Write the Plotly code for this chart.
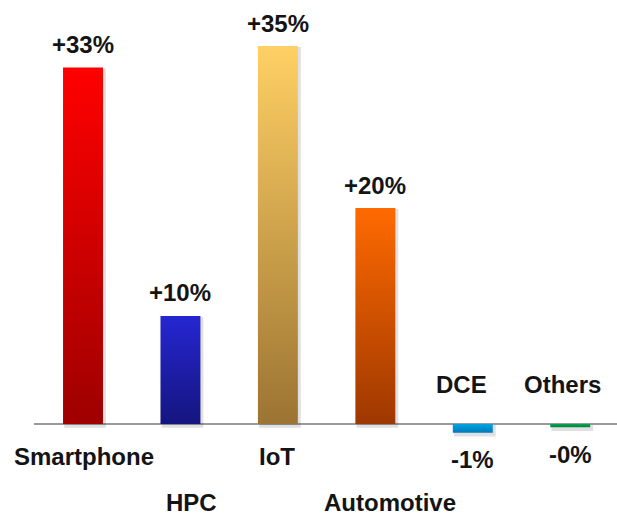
import plotly.graph_objects as go

# Growth by application segment
categories = ["Smartphone", "HPC", "IoT", "Automotive", "DCE", "Others"]
growth_pct = [33, 10, 35, 20, -0.8, -0.3]

# Vertical gradient per bar: (bottom colour, top colour)
bar_gradients = [
    ("#9e0000", "#ff0000"),
    ("#15157f", "#2626d2"),
    ("#9c7433", "#ffd064"),
    ("#9e3800", "#ff6a00"),
    ("#0079b8", "#00a4e4"),
    ("#00843c", "#00a84e"),
]

# Category label placement: (row offset in px from the zero line, horizontal nudge in px)
label_place = [(-33, 1), (-79, 11), (-33, -1), (-79, 15), (39, -11), (39, -8)]

FONT = dict(family="Arial, Liberation Sans, sans-serif", size=24, color="#141414", weight="bold")
BAR_W = 0.41

fig = go.Figure()

for i, (v, (c_lo, c_hi)) in enumerate(zip(growth_pct, bar_gradients)):
    x0, x1 = i - BAR_W / 2, i + BAR_W / 2
    # soft drop shadow behind the bar
    fig.add_trace(go.Scatter(
        x=[x0 + 0.012, x1 + 0.03, x1 + 0.03, x0 + 0.012, x0 + 0.012],
        y=[min(v, 0) - 0.35, min(v, 0) - 0.35, max(v, 0) - 0.1, max(v, 0) - 0.1, min(v, 0) - 0.35],
        mode="lines", line=dict(width=0), fill="toself",
        fillcolor="rgba(0,0,0,0.12)", hoverinfo="skip", showlegend=False,
    ))
    fig.add_trace(go.Scatter(
        x=[x0, x1, x1, x0, x0],
        y=[0, 0, v, v, 0],
        mode="lines", line=dict(width=0), fill="toself",
        fillgradient=dict(type="vertical", colorscale=[[0, c_lo], [1, c_hi]]),
        hoverinfo="skip", showlegend=False,
    ))
    # value label
    fig.add_annotation(
        x=i, y=v, xref="x", yref="y",
        text=f"{v:+.0f}%", showarrow=False, font=FONT,
        xanchor="center", yanchor="middle",
        yshift=23 if v >= 0 else -27,
    )

for i, (name, (dy, dx)) in enumerate(zip(categories, label_place)):
    fig.add_annotation(
        x=i, y=0, xref="x", yref="y",
        text=name, showarrow=False, font=FONT,
        xanchor="center", yanchor="middle",
        yshift=dy, xshift=dx,
    )

fig.update_layout(
    width=617, height=516,
    margin=dict(l=34, r=0, t=0, b=0),
    paper_bgcolor="white", plot_bgcolor="white",
    showlegend=False,
    xaxis=dict(range=[-0.503, 5.48], visible=False, fixedrange=True),
    yaxis=dict(range=[-8.52, 39.26], showgrid=False, showticklabels=False,
               zeroline=True, zerolinecolor="#9a9a9a", zerolinewidth=2,
               fixedrange=True),
)

fig.write_html("out.html")
